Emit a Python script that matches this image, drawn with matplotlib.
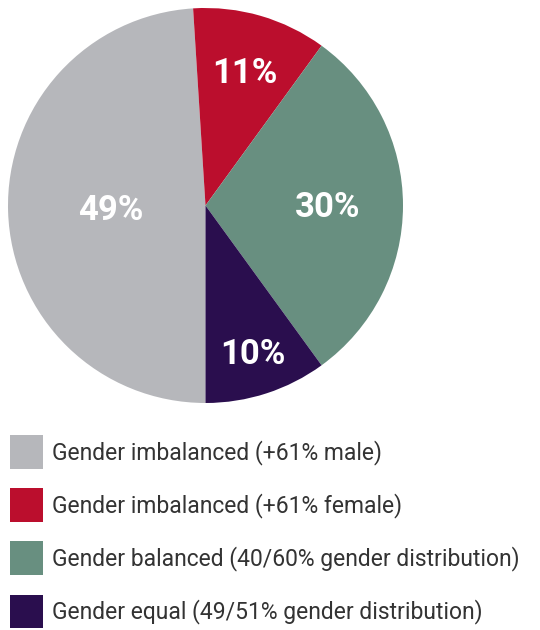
import matplotlib
matplotlib.use("Agg")
import matplotlib.pyplot as plt
from matplotlib.patches import Patch
import numpy as np

categories = [
    "Gender imbalanced (+61% male)",
    "Gender imbalanced (+61% female)",
    "Gender balanced (40/60% gender distribution)",
    "Gender equal (49/51% gender distribution)",
]
values = [49, 11, 30, 10]
labels = ["49%", "11%", "30%", "10%"]
colors = ["#B6B7BB", "#BB0E2D", "#688F80", "#2A0E4E"]
label_radius = [0.48, 0.71, 0.62, 0.78]

W, H = 540, 630
fig = plt.figure(figsize=(W / 100, H / 100), dpi=100)
ax = fig.add_axes([8 / W, (H - 403) / H, 395 / W, 395 / H])

wedges, _ = ax.pie(values, colors=colors, startangle=270, counterclock=False,
                   radius=1, wedgeprops=dict(linewidth=0))
ax.set_xlim(-1, 1)
ax.set_ylim(-1, 1)
ax.set_aspect("equal")
ax.axis("off")

for w, lab, r in zip(wedges, labels, label_radius):
    ang = np.deg2rad((w.theta1 + w.theta2) / 2)
    ax.text(r * np.cos(ang), r * np.sin(ang) - 0.012, lab, ha="center", va="center",
            color="white", fontsize=25, fontweight="bold", family="Roboto")

handles = [Patch(facecolor=c, edgecolor="none") for c in colors]
leg = fig.legend(handles, categories, loc="upper left",
                 bbox_to_anchor=(10 / W, (H - 435) / H),
                 frameon=False, prop=dict(family="Roboto", size=16.5),
                 handlelength=1.45, handleheight=1.9, handletextpad=0.4,
                 labelspacing=0.84, borderpad=0, borderaxespad=0,
                 labelcolor="#333333")

fig.savefig("out.png", dpi=100)
